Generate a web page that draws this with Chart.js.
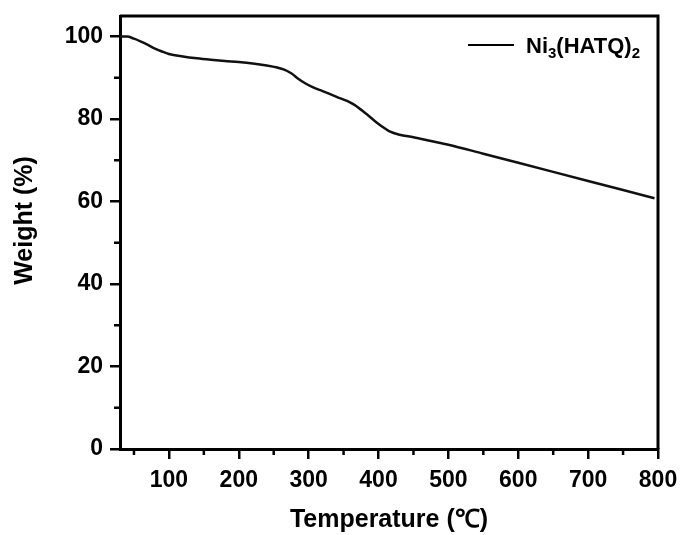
<!DOCTYPE html>
<html>
<head>
<meta charset="utf-8">
<script src="https://cdn.jsdelivr.net/npm/chart.js@4.4.2/dist/chart.umd.min.js"></script>
<style>
  html, body { margin: 0; padding: 0; background: #fff; }
  #wrap { width: 682px; height: 535px; position: relative; }
</style>
</head>
<body>
<div id="wrap"><canvas id="tga"></canvas></div>
<script>
// TGA curve — Ni3(HATQ)2
const TEMP = [30, 40, 50, 60, 70, 80, 90, 100, 120, 140, 160, 180, 200, 220, 240, 255, 265, 275, 285, 295,
  305, 320, 340, 355, 365, 380, 395, 405, 415, 430, 450, 475, 500, 550, 600, 650, 700, 750, 795];
const WEIGHT = [100, 100, 99.5, 98.8, 98.0, 97.1, 96.4, 95.8, 95.2, 94.75, 94.4, 94.1, 93.85, 93.5, 93.0, 92.5, 92.0, 91.1, 89.8, 88.7,
  87.8, 86.8, 85.4, 84.4, 83.5, 81.6, 79.5, 78.2, 77.1, 76.2, 75.6, 74.7, 73.8, 71.6, 69.4, 67.2, 65.0, 62.8, 60.8];

const X_TICKS = [100, 200, 300, 400, 500, 600, 700, 800];
const X_MINOR = [50, 150, 250, 350, 450, 550, 650, 750];
const Y_TICKS = [0, 20, 40, 60, 80, 100];
const Y_MINOR = [10, 30, 50, 70, 90];

const SERIES = 'Ni3(HATQ)2';
const FONT = '"Liberation Sans", Arial, sans-serif';

// frame, minor ticks, y title and legend with real subscripts
const extras = {
  id: 'extras',
  afterDraw(chart) {
    const { ctx, chartArea: a, scales: { x, y } } = chart;
    ctx.save();
    ctx.strokeStyle = '#000';
    ctx.lineWidth = 3;
    ctx.beginPath();
    ctx.moveTo(a.left, a.top); ctx.lineTo(a.right, a.top); ctx.lineTo(a.right, a.bottom);
    ctx.stroke();

    ctx.lineWidth = 2.5;
    ctx.beginPath();
    X_MINOR.forEach(v => {
      const px = x.getPixelForValue(v);
      ctx.moveTo(px, a.bottom); ctx.lineTo(px, a.bottom + 6);
    });
    Y_MINOR.forEach(v => {
      const py = y.getPixelForValue(v);
      ctx.moveTo(a.left, py); ctx.lineTo(a.left - 6, py);
    });
    ctx.stroke();

    // y axis title
    ctx.fillStyle = '#000';
    ctx.font = `bold 25px ${FONT}`;
    ctx.textAlign = 'center';
    ctx.textBaseline = 'middle';
    ctx.translate(25, (a.top + a.bottom) / 2 - 12);
    ctx.rotate(-Math.PI / 2);
    ctx.fillText('Weight (%)', 0, 0);
    ctx.restore();

    // legend
    ctx.save();
    const ly = a.top + 29;
    ctx.strokeStyle = '#000';
    ctx.lineWidth = 2;
    ctx.beginPath();
    ctx.moveTo(a.right - 190, ly); ctx.lineTo(a.right - 144, ly);
    ctx.stroke();
    ctx.fillStyle = '#000';
    ctx.textBaseline = 'alphabetic';
    let tx = a.right - 132;
    const base = ly + 8;
    const parts = [['Ni', 0], ['3', 1], ['(HATQ)', 0], ['2', 1]];
    parts.forEach(([t, sub]) => {
      ctx.font = sub ? `bold 15px ${FONT}` : `bold 22px ${FONT}`;
      ctx.fillText(t, tx, sub ? base + 5 : base);
      tx += ctx.measureText(t).width;
    });
    ctx.restore();
  }
};

new Chart(document.getElementById('tga'), {
  type: 'line',
  data: {
    datasets: [{
      label: SERIES,
      data: TEMP.map((t, i) => ({ x: t, y: WEIGHT[i] })),
      borderColor: '#111',
      borderWidth: 2.5,
      pointRadius: 0,
      cubicInterpolationMode: 'monotone',
      fill: false,
    }],
  },
  options: {
    responsive: true, maintainAspectRatio: false, animation: false,
    layout: { padding: { left: 0, right: 24, top: 16, bottom: 0 } },
    plugins: { legend: { display: false }, tooltip: { enabled: false } },
    scales: {
      x: {
        type: 'linear', min: 30, max: 800,
        afterBuildTicks: s => { s.ticks = X_TICKS.map(v => ({ value: v })); },
        afterFit: s => { s.height = 86; s.paddingLeft = 0; s.paddingRight = 0; },
        grid: { drawOnChartArea: false, drawTicks: true, tickLength: 10, color: '#000', lineWidth: 2.5 },
        border: { display: true, color: '#000', width: 3 },
        ticks: { color: '#000', font: { family: FONT, size: 23, weight: 'bold' }, padding: 8, maxRotation: 0 },
        title: {
          display: true, text: 'Temperature (℃)', color: '#000',
          font: { family: FONT, size: 25, weight: 'bold' }, padding: { top: 13, bottom: 0 },
        },
      },
      y: {
        type: 'linear', min: 0, max: 105,
        afterBuildTicks: s => { s.ticks = Y_TICKS.map(v => ({ value: v })); },
        afterFit: s => { s.width = 120; s.paddingTop = 0; s.paddingBottom = 0; },
        grid: { drawOnChartArea: false, drawTicks: true, tickLength: 10, color: '#000', lineWidth: 2.5 },
        border: { display: true, color: '#000', width: 3 },
        ticks: { color: '#000', font: { family: FONT, size: 23, weight: 'bold' }, padding: 7 },
      },
    },
  },
  plugins: [extras],
});
</script>
</body>
</html>
